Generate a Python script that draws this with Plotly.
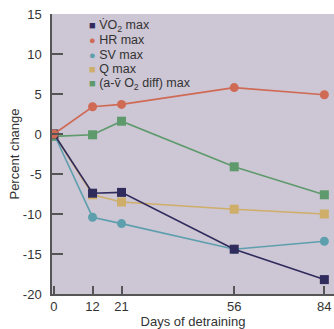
import plotly.graph_objects as go

days = [0, 12, 21, 56, 84]
vo2 = [0, -7.4, -7.3, -14.4, -18.2]
hr = [0, 3.4, 3.7, 5.8, 4.9]
sv = [0, -10.4, -11.2, -14.4, -13.4]
q = [0, -7.6, -8.5, -9.4, -10.0]
avo2 = [-0.3, -0.1, 1.6, -4.1, -7.6]

y_ticks = [15, 10, 5, 0, -5, -10, -15, -20]
y_ticktext = ["15", "10", "5", "0", "-5", "-10", "-15", "-20"]

names = ["V\u0307O<sub>2</sub> max", "HR max", "SV max", "Q max", "(a-v\u0304 O<sub>2</sub> diff) max"]
colors = ["#2f2b5c", "#cf6a55", "#5e9fae", "#cfae6a", "#5e9a6c"]
symbols = ["square", "circle", "circle", "square", "square"]
glyphs = ["\u25A0", "\u25CF", "\u25CF", "\u25A0", "\u25A0"]
series = [vo2, hr, sv, q, avo2]

fig = go.Figure()
order = [4, 3, 2, 0, 1]
for i in order:
    fig.add_trace(go.Scatter(
        x=days, y=series[i], mode="lines+markers", name=names[i], showlegend=False,
        line=dict(color=colors[i], width=1.6),
        marker=dict(symbol=symbols[i], size=9, color=colors[i]),
    ))

# legend drawn as text rows
for k in range(5):
    fig.add_annotation(
        xref="paper", yref="paper", x=0.125, y=1 - (12 + 14.4 * k) / 280,
        xanchor="left", yanchor="middle", showarrow=False, align="left",
        text=f"<span style='color:{colors[k]};font-size:11px'>{glyphs[k]}</span> {names[k]}",
        font=dict(size=12.5, color="#333"),
    )

fig.update_layout(
    width=334, height=329,
    margin=dict(l=52, r=0, t=14, b=35, autoexpand=False),
    paper_bgcolor="white", plot_bgcolor="#cdc6d4",
    font=dict(family="Liberation Sans, Arial, sans-serif", size=12, color="#333"),
    showlegend=False,
    xaxis=dict(range=[-0.6, 87], tickvals=days, ticks="inside", ticklen=8,
               tickcolor="#555", tickwidth=1.5, showgrid=False, zeroline=False, showline=True,
               linecolor="#555", linewidth=1.5, tickfont=dict(size=13),
               title=dict(text="Days of detraining", standoff=2, font=dict(size=13))),
    yaxis=dict(range=[-20, 15], tickvals=y_ticks, ticktext=y_ticktext, ticks="inside",
               ticklen=11, tickcolor="#555", tickwidth=1.5, showgrid=False, zeroline=False,
               showline=True, linecolor="#555", linewidth=1.5, tickfont=dict(size=13),
               ticklabelstandoff=6,
               title=dict(text="Percent change", standoff=0, font=dict(size=13))),
)
fig.write_html("out.html", config={"displayModeBar": False},
               post_script="document.body.style.margin='0';")
